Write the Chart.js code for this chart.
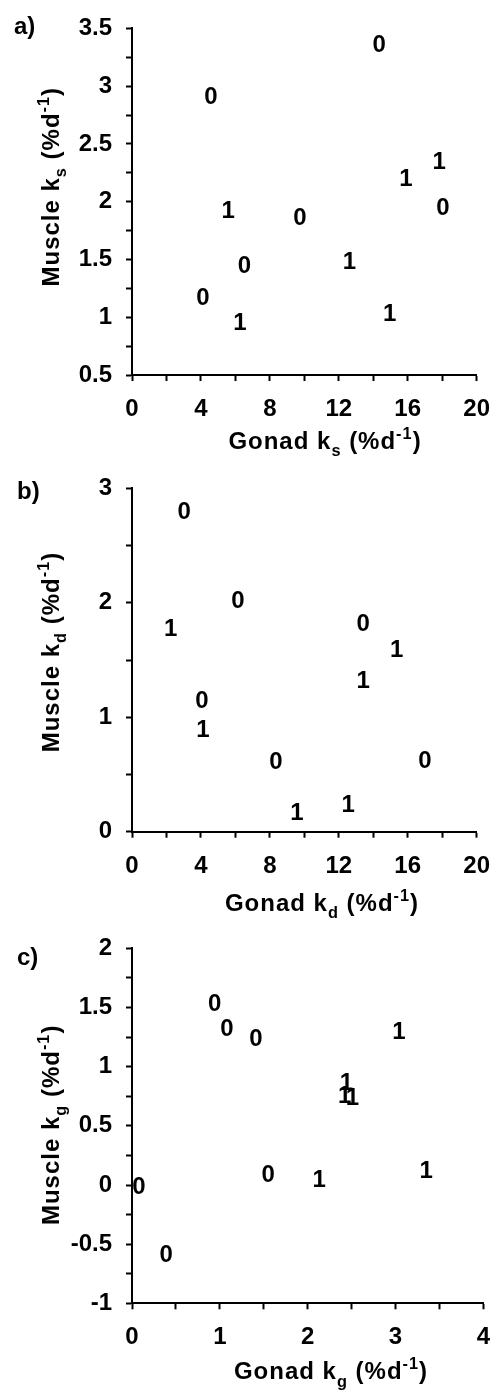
<!DOCTYPE html>
<html>
<head>
<meta charset="utf-8">
<script src="https://cdn.jsdelivr.net/npm/chart.js@4"></script>
<style>
  body { margin: 0; background: #fff; }
  .panel { position: absolute; left: 0; width: 504px; }
  .panel canvas { display: block; }
</style>
</head>
<body>
<div class="panel" style="top:0"><canvas id="chartA" width="504" height="460"></canvas></div>
<div class="panel" style="top:460px"><canvas id="chartB" width="504" height="460"></canvas></div>
<div class="panel" style="top:920px"><canvas id="chartC" width="504" height="470"></canvas></div>
<script>
// a) synthesis rate ks, gonad vs muscle, marker '0' and '1'
const ksGonad0 = [14.35, 4.58, 18.05, 9.75, 6.52, 4.11];
const ksMuscle0 = [3.37, 2.92, 1.96, 1.87, 1.46, 1.18];
const ksGonad1 = [17.82, 15.9, 5.58, 12.62, 14.95, 6.27];
const ksMuscle1 = [2.36, 2.21, 1.93, 1.49, 1.04, 0.96];

// b) degradation rate kd
const kdGonad0 = [3.03, 6.15, 13.42, 4.06, 8.35, 17.0];
const kdMuscle0 = [2.81, 2.03, 1.83, 1.16, 0.62, 0.63];
const kdGonad1 = [2.24, 15.36, 13.42, 4.12, 12.54, 9.57];
const kdMuscle1 = [1.79, 1.60, 1.33, 0.90, 0.25, 0.18];

// c) growth rate kg
const kgGonad0 = [0.94, 1.08, 1.41, 1.55, 0.08, 0.39];
const kgMuscle0 = [1.54, 1.33, 1.25, 0.10, 0.0, -0.58];
const kgGonad1 = [3.04, 2.44, 2.42, 2.51, 2.13, 3.35];
const kgMuscle1 = [1.31, 0.88, 0.77, 0.75, 0.06, 0.13];

// labelled tick values (minor ticks sit between them)
const ksXTicks = [0, 4, 8, 12, 16, 20];
const ksYTicks = [0.5, 1, 1.5, 2, 2.5, 3, 3.5];
const kdXTicks = [0, 4, 8, 12, 16, 20];
const kdYTicks = [0, 1, 2, 3];
const kgXTicks = [0, 1, 2, 3, 4];
const kgYTicks = [-1, -0.5, 0, 0.5, 1, 1.5, 2];

const FONT = '"Liberation Sans", Arial, Helvetica, sans-serif';
const SIZE = 24;

const toPoints = (xs, ys) => xs.map((x, i) => ({ x: x, y: ys[i] }));

// centred text with sub/superscript parts, baseline at y
function drawRich(ctx, parts, x, y, size) {
  let total = 0;
  const items = parts.map(p => {
    const t = Array.isArray(p) ? p[0] : p;
    const kind = Array.isArray(p) ? p[1] : '';
    const s = kind ? size * 0.68 : size;
    ctx.font = `bold ${s}px ${FONT}`;
    const w = ctx.measureText(t).width;
    total += w;
    return { t, kind, s, w };
  });
  let cx = x - total / 2;
  items.forEach(it => {
    ctx.font = `bold ${it.s}px ${FONT}`;
    const dy = it.kind === 'sub' ? size * 0.3 : it.kind === 'sup' ? -size * 0.42 : 0;
    ctx.fillText(it.t, cx, y + dy);
    cx += it.w;
  });
}

// draws the 0/1 markers, "a)" and the axis titles
const panelText = {
  id: 'panelText',
  afterDatasetsDraw(chart, args, opts) {
    const ctx = chart.ctx;
    const area = chart.chartArea;
    ctx.save();
    ctx.fillStyle = '#000';
    ctx.textBaseline = 'alphabetic';

    ctx.textAlign = 'center';
    ctx.font = `bold ${SIZE}px ${FONT}`;
    chart.data.datasets.forEach((ds, i) => {
      chart.getDatasetMeta(i).data.forEach(el => {
        ctx.fillText(ds.marker, el.x, el.y + SIZE * 0.36);
      });
    });

    ctx.textAlign = 'left';
    ctx.fillText(opts.label, opts.labelX, opts.labelY);

    ctx.letterSpacing = '1px';
    drawRich(ctx, opts.xTitle, opts.xTitleX, area.bottom + opts.xTitleDy, SIZE);

    ctx.translate(opts.yTitleX, (area.top + area.bottom) / 2 + opts.yTitleDy);
    ctx.rotate(-Math.PI / 2);
    drawRich(ctx, opts.yTitle, 0, 0, SIZE);
    ctx.restore();
  }
};

function axis(min, max, step, labelled, padding, fixSize) {
  return {
    type: 'linear',
    min: min,
    max: max,
    border: { display: true, color: '#000', width: 2 },
    grid: { display: true, drawOnChartArea: false, drawTicks: true, tickLength: 6, tickWidth: 2, tickColor: '#000' },
    ticks: {
      stepSize: step,
      autoSkip: false,
      maxRotation: 0,
      color: '#000',
      padding: padding,
      font: { family: FONT, size: SIZE, weight: 'bold' },
      callback: v => labelled.some(t => Math.abs(t - v) < 1e-6) ? String(Math.round(v * 2) / 2) : ''
    },
    afterFit: fixSize
  };
}

function makeChart(id, p) {
  const canvas = document.getElementById(id);
  return new Chart(canvas, {
    type: 'scatter',
    data: {
      datasets: [
        { marker: '0', data: p.data0, pointRadius: 0, pointHoverRadius: 0, showLine: false },
        { marker: '1', data: p.data1, pointRadius: 0, pointHoverRadius: 0, showLine: false }
      ]
    },
    options: {
      responsive: false,
      animation: false,
      layout: { padding: { left: 0, top: p.top, right: 17, bottom: 0 } },
      scales: {
        x: axis(p.xMin, p.xMax, p.xStep, p.xTicks, 14, s => { s.height = canvas.height - p.bottom; }),
        y: axis(p.yMin, p.yMax, p.yStep, p.yTicks, 14, s => { s.width = 132; })
      },
      plugins: {
        legend: { display: false },
        tooltip: { enabled: false },
        panelText: {
          label: p.label, labelX: p.labelX, labelY: p.labelY,
          xTitle: p.xTitle, xTitleX: p.xTitleX, xTitleDy: p.xTitleDy,
          yTitle: p.yTitle, yTitleX: 59, yTitleDy: p.yTitleDy
        }
      }
    },
    plugins: [panelText]
  });
}

makeChart('chartA', {
  data0: toPoints(ksGonad0, ksMuscle0), data1: toPoints(ksGonad1, ksMuscle1),
  xMin: 0, xMax: 20, xStep: 2, xTicks: ksXTicks,
  yMin: 0.5, yMax: 3.5, yStep: 0.25, yTicks: ksYTicks,
  top: 20, bottom: 375,
  label: 'a)', labelX: 14, labelY: 34,
  xTitle: ['Gonad k', ['s', 'sub'], ' (%d', ['-1', 'sup'], ')'], xTitleX: 325, xTitleDy: 74,
  yTitle: ['Muscle k', ['s', 'sub'], ' (%d', ['-1', 'sup'], ')'], yTitleDy: -15
});

makeChart('chartB', {
  data0: toPoints(kdGonad0, kdMuscle0), data1: toPoints(kdGonad1, kdMuscle1),
  xMin: 0, xMax: 20, xStep: 2, xTicks: kdXTicks,
  yMin: 0, yMax: 3, yStep: 0.5, yTicks: kdYTicks,
  top: 16.7, bottom: 371.7,
  label: 'b)', labelX: 17, labelY: 39,
  xTitle: ['Gonad k', ['d', 'sub'], ' (%d', ['-1', 'sup'], ')'], xTitleX: 322, xTitleDy: 79,
  yTitle: ['Muscle k', ['d', 'sub'], ' (%d', ['-1', 'sup'], ')'], yTitleDy: -8
});

makeChart('chartC', {
  data0: toPoints(kgGonad0, kgMuscle0), data1: toPoints(kgGonad1, kgMuscle1),
  xMin: 0, xMax: 4, xStep: 0.5, xTicks: kgXTicks,
  yMin: -1, yMax: 2, yStep: 0.25, yTicks: kgYTicks,
  top: 28.3, bottom: 383.3,
  label: 'c)', labelX: 17, labelY: 45,
  xTitle: ['Gonad k', ['g', 'sub'], ' (%d', ['-1', 'sup'], ')'], xTitleX: 331, xTitleDy: 76,
  yTitle: ['Muscle k', ['g', 'sub'], ' (%d', ['-1', 'sup'], ')'], yTitleDy: -1
});
</script>
</body>
</html>
